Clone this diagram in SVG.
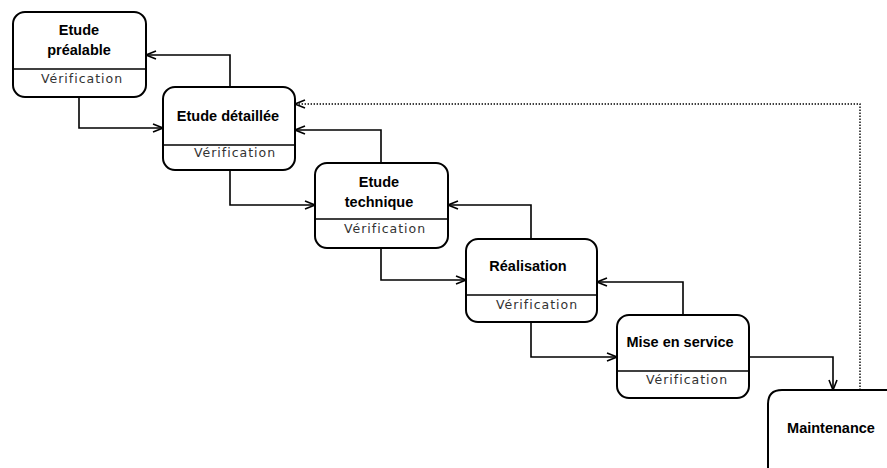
<svg xmlns="http://www.w3.org/2000/svg" width="887" height="468" viewBox="0 0 887 468">
  <style>
    .box { fill: #fff; stroke: #000; stroke-width: 2; }
    .div { stroke: #000; stroke-width: 1.6; }
    .title { font-family: "Liberation Sans", Arial, sans-serif; font-size: 14.5px; font-weight: bold; fill: #000; text-anchor: middle; }
    .sub { font-family: "DejaVu Sans", "Liberation Sans", sans-serif; font-size: 12.5px; fill: #333; text-anchor: middle; letter-spacing: 1px; }
    .link { fill: none; stroke: #000; stroke-width: 1.6; marker-end: url(#arrow); }
    .dot { fill: none; stroke: #000; stroke-width: 1.4; stroke-dasharray: 1.4 1.6; marker-end: url(#arrow); }
  </style>
  <defs>
    <marker id="arrow" viewBox="0 0 12 10" refX="11" refY="5" markerWidth="12" markerHeight="10" markerUnits="userSpaceOnUse" orient="auto">
      <path d="M1,1 L11,5 L1,9" fill="none" stroke="#000" stroke-width="1.6"/>
    </marker>
  </defs>

  <rect width="887" height="468" fill="#fff"/>

  <g id="connectors">
    <!-- forward flow -->
    <path class="link" d="M79,97 V128 H163"/>
    <path class="link" d="M230,170 V205 H315"/>
    <path class="link" d="M381,248 V280 H466"/>
    <path class="link" d="M531,322 V357 H617"/>
    <path class="link" d="M749,357 H833 V390"/>
    <!-- feedback flow -->
    <path class="link" d="M230,87 V55 H146"/>
    <path class="link" d="M381,163 V130 H295"/>
    <path class="link" d="M531,239 V205 H448"/>
    <path class="link" d="M683,315 V282 H597"/>
    <!-- maintenance loop -->
    <path class="dot" d="M860,390 V104 H295"/>
  </g>

  <g id="etude-prealable">
    <rect class="box" x="13" y="12" width="133" height="85" rx="12"/>
    <line class="div" x1="13" y1="69" x2="146" y2="69"/>
    <text class="title" x="79" y="35">Etude</text>
    <text class="title" x="79" y="55">préalable</text>
    <text class="sub" x="82" y="83">Vérification</text>
  </g>

  <g id="etude-detaillee">
    <rect class="box" x="163" y="87" width="132" height="83" rx="12"/>
    <line class="div" x1="163" y1="145" x2="295" y2="145"/>
    <text class="title" x="228" y="121">Etude détaillée</text>
    <text class="sub" x="235" y="157">Vérification</text>
  </g>

  <g id="etude-technique">
    <rect class="box" x="315" y="163" width="133" height="85" rx="12"/>
    <line class="div" x1="315" y1="219" x2="448" y2="219"/>
    <text class="title" x="379" y="187">Etude</text>
    <text class="title" x="379" y="207">technique</text>
    <text class="sub" x="385" y="233">Vérification</text>
  </g>

  <g id="realisation">
    <rect class="box" x="466" y="239" width="131" height="83" rx="12"/>
    <line class="div" x1="466" y1="295" x2="597" y2="295"/>
    <text class="title" x="528" y="271">Réalisation</text>
    <text class="sub" x="537" y="309">Vérification</text>
  </g>

  <g id="mise-en-service">
    <rect class="box" x="617" y="315" width="132" height="83" rx="12"/>
    <line class="div" x1="617" y1="371" x2="749" y2="371"/>
    <text class="title" x="680" y="347">Mise en service</text>
    <text class="sub" x="687" y="384">Vérification</text>
  </g>

  <g id="maintenance">
    <path class="box" d="M900,390 H782 Q768,390 768,404 V480 H900 Z"/>
    <text class="title" x="831" y="433">Maintenance</text>
  </g>
</svg>
